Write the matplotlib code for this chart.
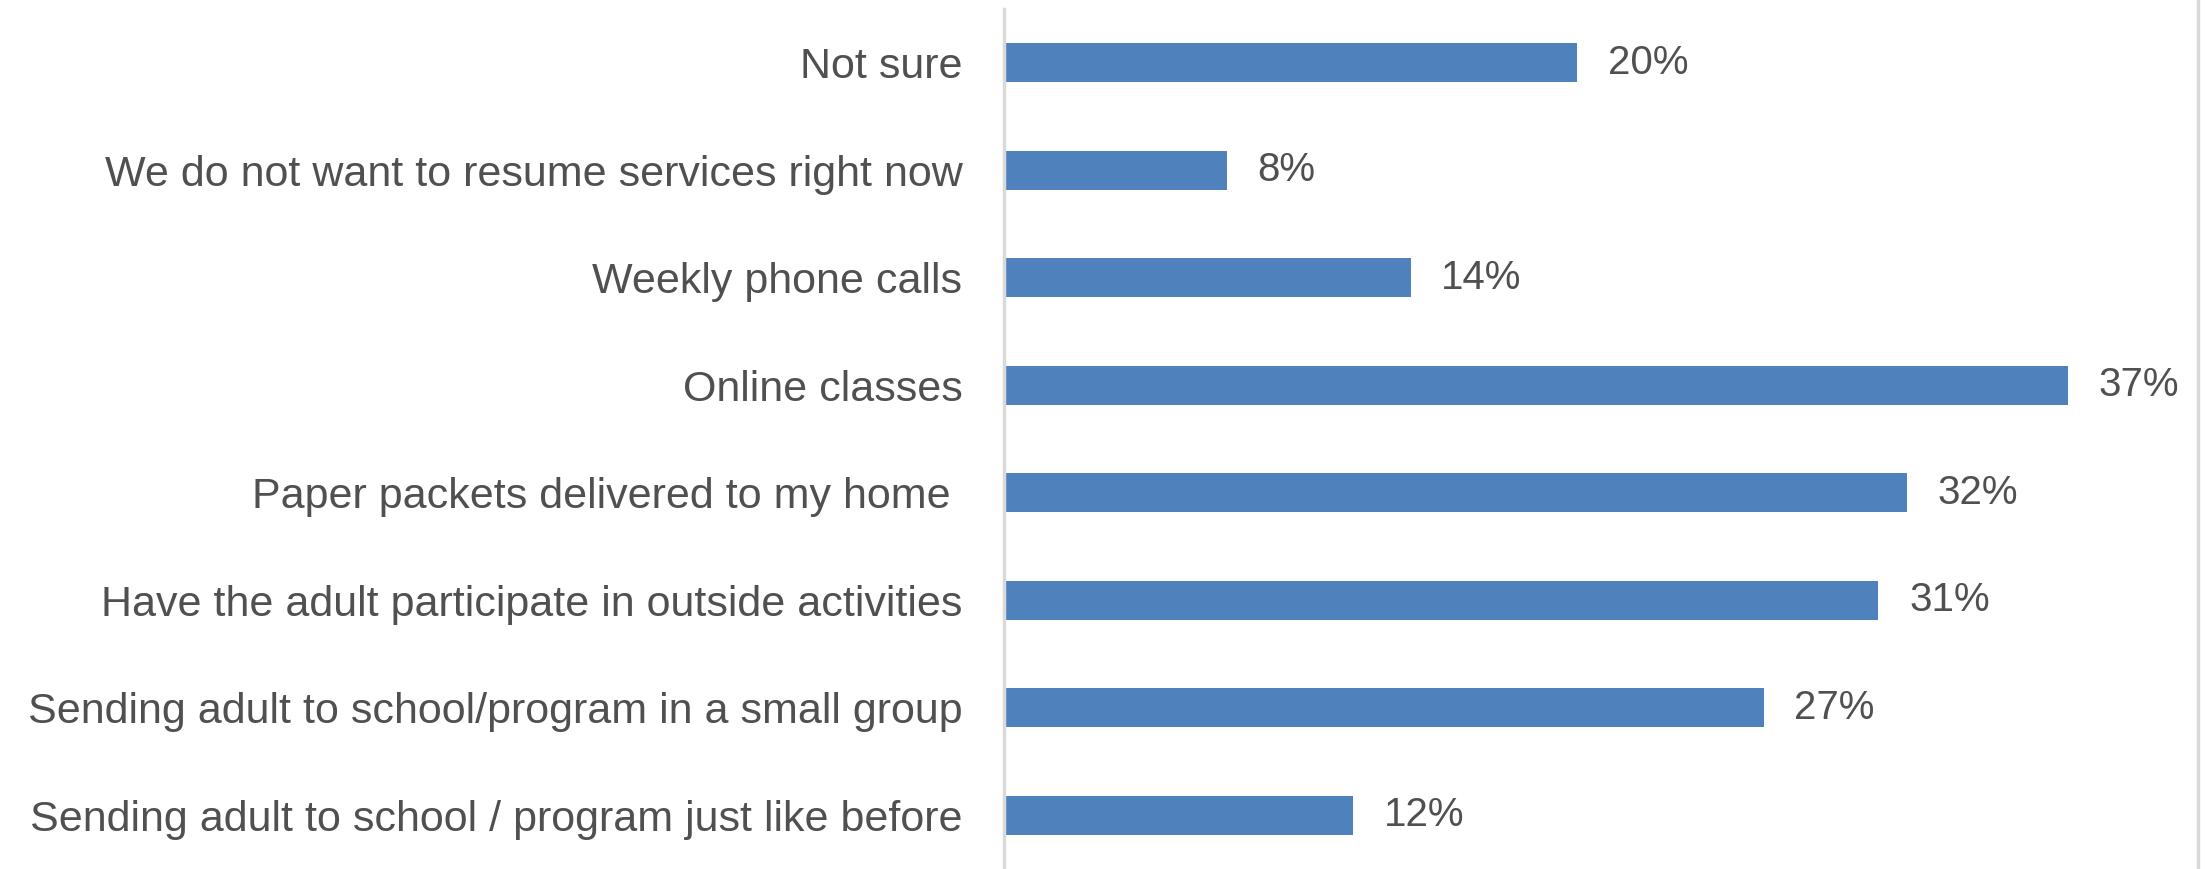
import matplotlib.pyplot as plt
from matplotlib.lines import Line2D

# categories, top to bottom as in the chart
categories = [
    "Not sure",
    "We do not want to resume services right now",
    "Weekly phone calls",
    "Online classes",
    "Paper packets delivered to my home ",
    "Have the adult participate in outside activities",
    "Sending adult to school/program in a small group",
    "Sending adult to school / program just like before",
]
# bar lengths (percent)
values = [19.9, 7.7, 14.1, 37.0, 31.4, 30.4, 26.4, 12.1]
# printed data labels
value_labels = ["20%", "8%", "14%", "37%", "32%", "31%", "27%", "12%"]

plt.rcParams['font.family'] = ['Liberation Sans', 'DejaVu Sans']
txt_color = '#505050'

fig = plt.figure(figsize=(22.06, 8.69), dpi=100)
ax = fig.add_axes([1004/2206, 0.0, (2197-1004)/2206, 0.9896])

y = list(range(len(categories)))
bars = ax.barh(y, values, height=0.36, color='#4F81BD')
ax.set_ylim(len(categories) - 0.5, -0.5)
ax.set_xlim(-0.07, 41.5)

ax.set_yticks(y)
ax.set_yticklabels(categories, fontsize=31, color=txt_color)
ax.tick_params(axis='y', length=0, pad=30)
ax.set_xticks([])

ax.bar_label(bars, labels=value_labels, padding=22, fontsize=29, color=txt_color)

for s in ['top', 'right', 'bottom']:
    ax.spines[s].set_visible(False)
ax.spines['left'].set_color('#D9D9D9')
ax.spines['left'].set_linewidth(2.5)

# outer chart border on the right
fig.add_artist(Line2D([2198/2206, 2198/2206], [0, 1], color='#D9D9D9', lw=2.5))

fig.savefig('out.png', dpi=100)
